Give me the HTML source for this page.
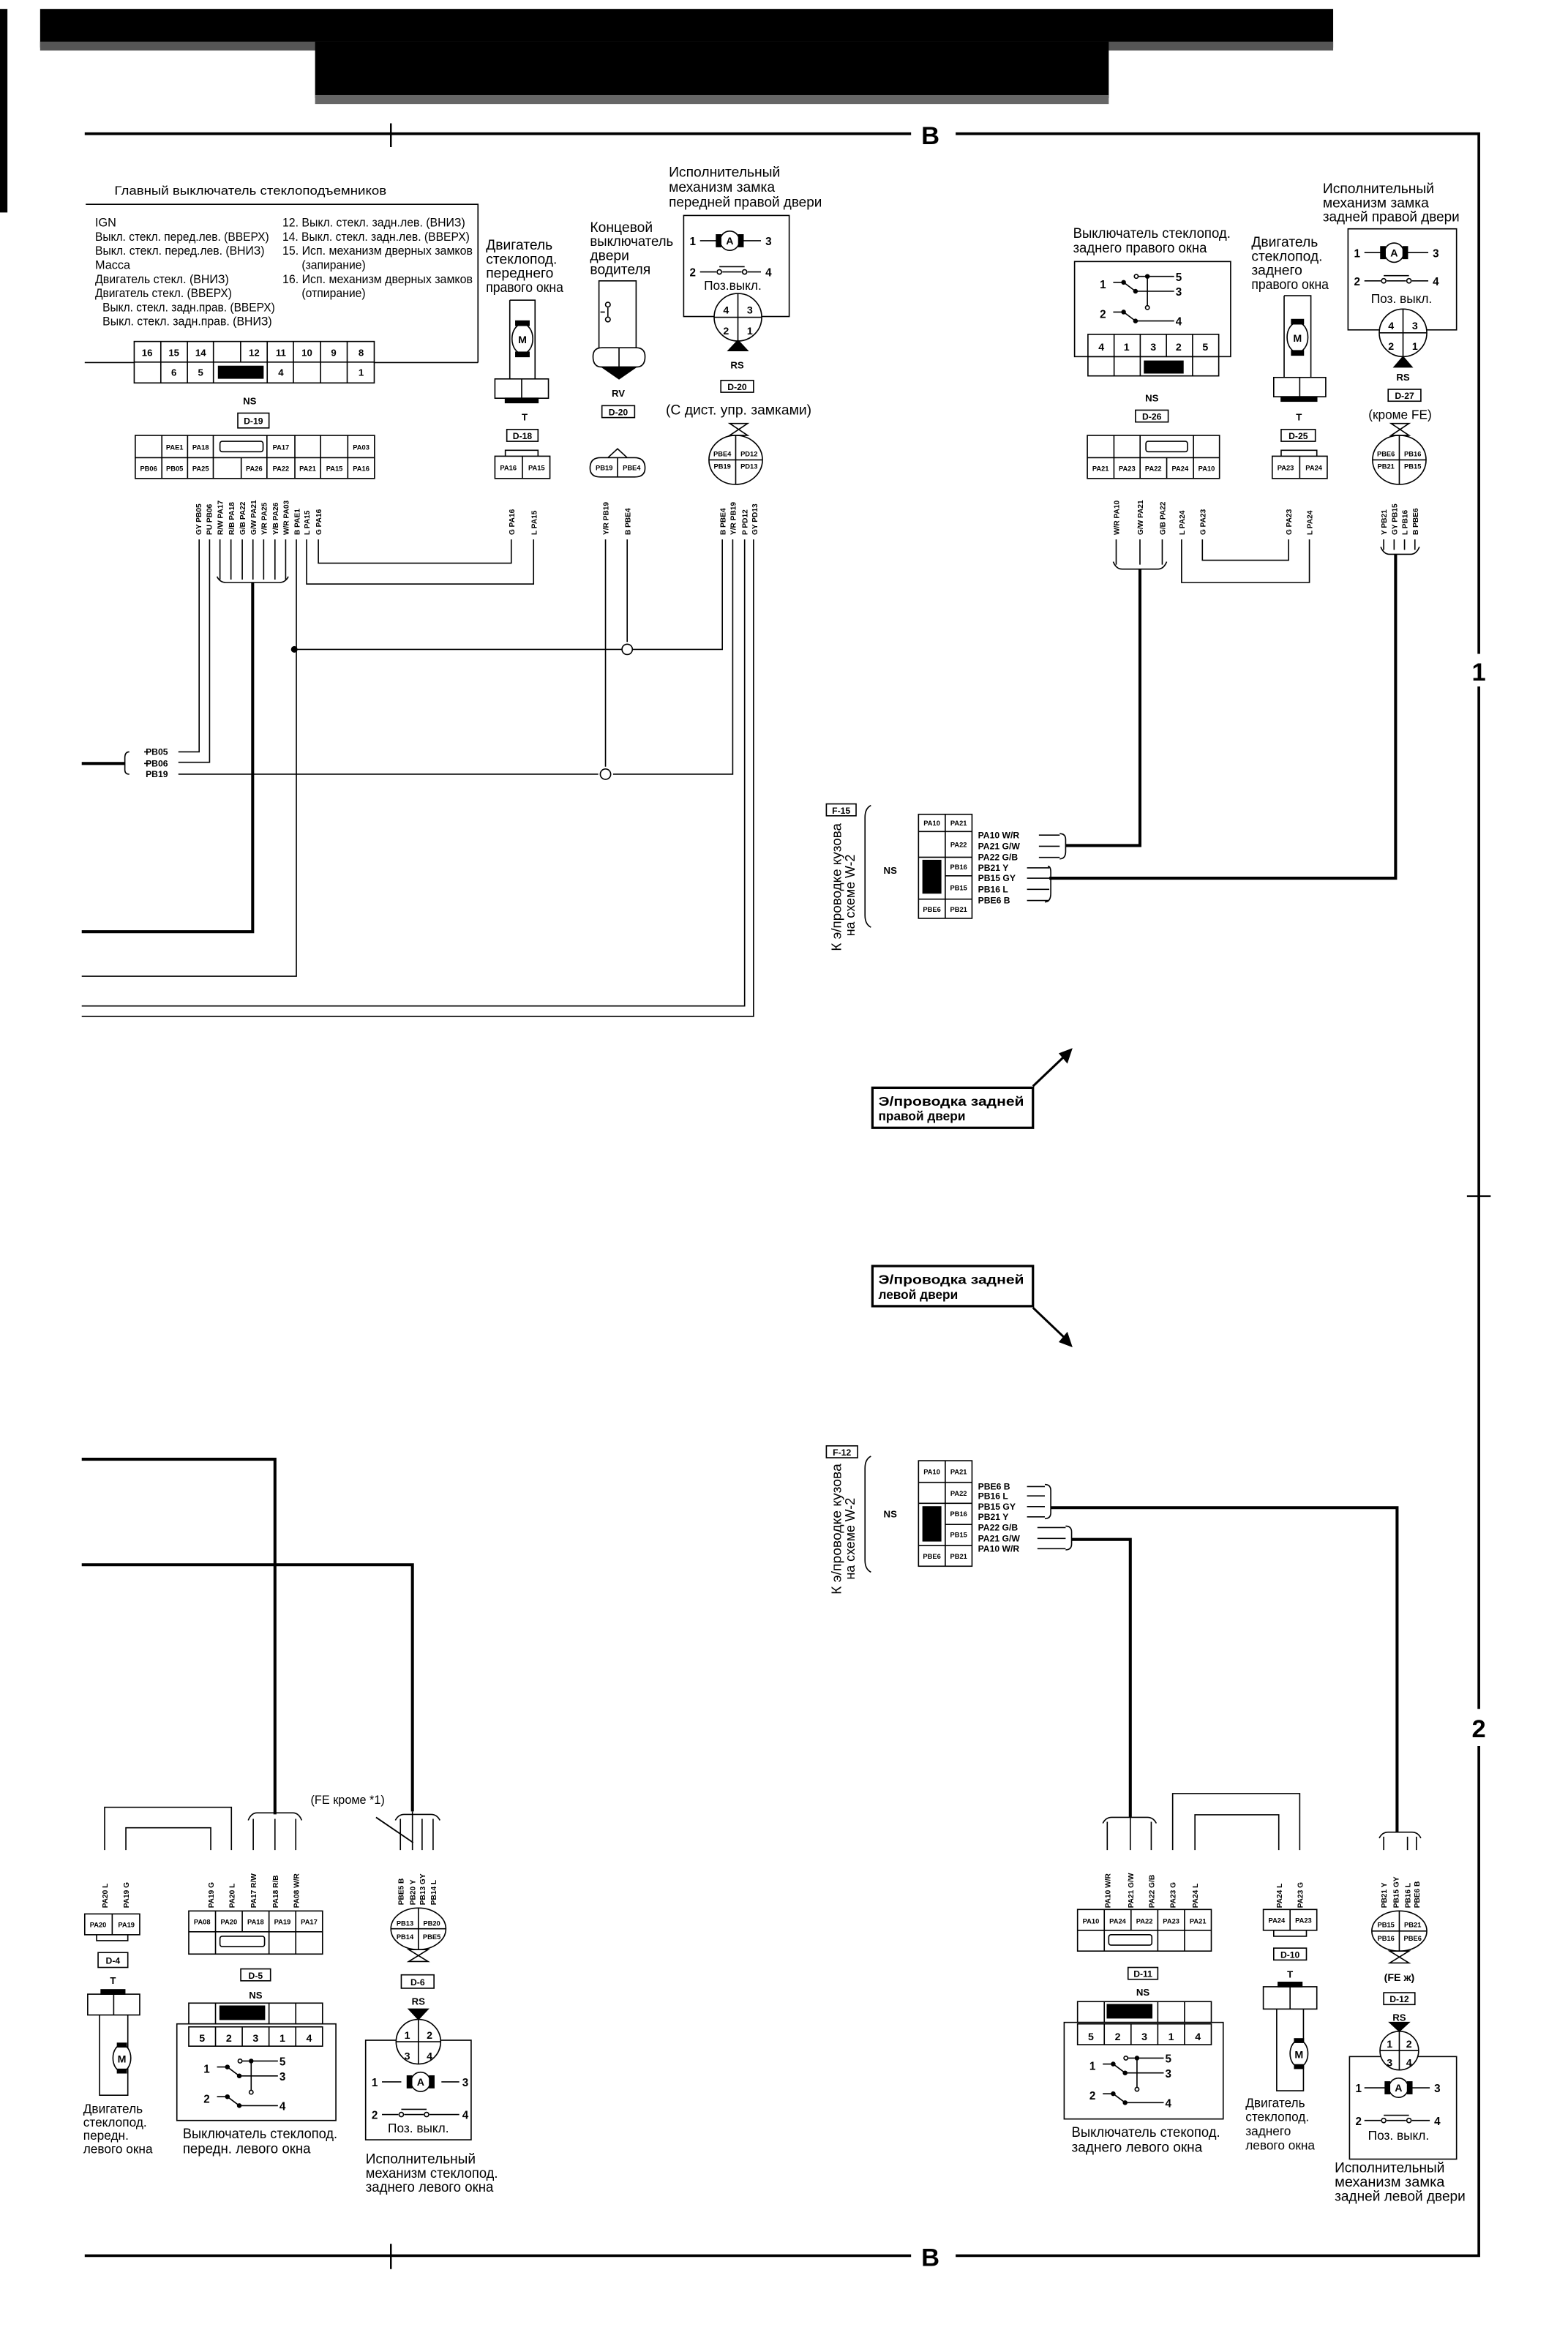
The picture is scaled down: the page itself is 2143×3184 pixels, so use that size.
<!DOCTYPE html>
<html><head><meta charset="utf-8"><style>
html,body{margin:0;padding:0;background:#fff}
svg{display:block}
text{font-family:"Liberation Sans","Noto Sans CJK SC",sans-serif;fill:#000}
.t{font-size:9.5px}
.s{font-size:8px}
.b{font-weight:bold}
.m{font-size:4.6px;font-weight:bold}
.n{font-size:6.5px;font-weight:bold}
.v{font-size:5px;font-weight:bold}
</style></head><body>
<svg width="2143" height="3184" viewBox="0 0 1055 1568" preserveAspectRatio="none" xmlns="http://www.w3.org/2000/svg">
<g fill="none" stroke="#000" stroke-width="0.8">
<!-- header -->
<rect x="27" y="6" width="870" height="26" fill="#000" stroke="none"/>
<rect x="27" y="28" width="870" height="6" fill="#555" stroke="none"/>
<rect x="212" y="28" width="534" height="38" fill="#000" stroke="none"/>
<rect x="212" y="64" width="534" height="6" fill="#666" stroke="none"/>
<rect x="0" y="6" width="5" height="137" fill="#000" stroke="none"/>
<!-- border -->
<path d="M57 90H613M643 90H995V440M995 462V1150M995 1175V1518H643M613 1518H57" stroke-width="1.8"/>
<path d="M263 83V99M263 1510V1527M987 805H1003" stroke-width="1.2"/>
<!-- top-left box -->
<path d="M57.7 137.5H321.6V244M57 244H321.6"/>
<rect x="90.3" y="229.8" width="161.5" height="27.9" fill="#fff"/>
<path d="M90.3 243.7H251.8M108.2 229.8V257.7M126.1 229.8V257.7M143.6 229.8V257.7M161.9 229.8V243.7M179.8 229.8V257.7M197.4 229.8V257.7M215.7 229.8V257.7M233.6 229.8V257.7"/>
<rect x="147" y="246.5" width="30" height="8" fill="#000"/>
<!-- connector D-19 -->
<rect x="91" y="293" width="161" height="29"/>
<path d="M91 308H252M108.9 293V322M126.2 293V322M143.5 293V322M162.3 308V322M179.6 293V322M198.4 293V322M215.7 293V322M234 293V322"/>
<rect x="148" y="297" width="29" height="7" rx="1.5"/>
<rect x="160" y="278" width="21" height="10"/>
<!-- D-19 wires -->
<path d="M134 363V506H120M141 363V513H120M148 363V390M155.4 363V390M163 363V390M170.2 363V390M177.4 363V390M185 363V390M192.2 363V390M146 388Q148 392 152 392H188Q192 392 194 388"/>
<path d="M170 392V627H55" stroke-width="2"/>
<path d="M199.4 363V657H55M206.3 363V393H359V363M214.2 363V379H344V363"/>
<path d="M198 437H486V363M422 363V432M407.4 363V516M120 521H402.5M412.5 521H493V363M501 363V677H55M507 363V684H55"/>
<circle cx="198" cy="437" r="1.8" fill="#000"/>
<circle cx="422" cy="437" r="3.5" fill="#fff"/>
<circle cx="407.4" cy="521" r="3.5" fill="#fff"/>
<path d="M55 513.8H84" stroke-width="2"/>
<path d="M87 506Q84 506 84 510V514V518Q84 521 87 521M100 506H97M100 513.8H97"/>
<!-- D-18 front right motor -->
<path d="M343 202H360V255M343 202V255"/>
<ellipse cx="351.5" cy="228" rx="7" ry="10" fill="#fff"/>
<rect x="347" y="216" width="9" height="3" fill="#000"/>
<rect x="347" y="237" width="9" height="3" fill="#000"/>
<rect x="333" y="255" width="36" height="13"/>
<path d="M351 255V268"/>
<rect x="340" y="268" width="22" height="3" fill="#000"/>
<rect x="341" y="289" width="21" height="8"/>
<rect x="333" y="307" width="37" height="15"/>
<path d="M351.5 307V322M340 307V303H362V307"/>
<!-- door switch -->
<path d="M403 234V189H428V234"/>
<circle cx="409" cy="205" r="1.6"/><circle cx="409" cy="215" r="1.6"/>
<path d="M409 207V213M404 210H407"/>
<path d="M399 240Q399 234 405 234H428Q434 234 434 240Q434 247 428 247H405Q399 247 399 240Z"/>
<path d="M416.5 234V247M405 247L416.5 255L428 247Z" fill="#000"/>
<rect x="405" y="273" width="22" height="8"/>
<path d="M397 315Q397 308 404 308H427Q434 308 434 315Q434 321 427 321H404Q397 321 397 315ZM415.5 308V321M409 308L415.5 302L422 308"/>
<!-- front right lock -->
<rect x="460" y="145" width="71" height="68"/>
<path d="M471 162H484M498 162H512M471 183H482M486 183H499M503 183H512M484 179.5H501"/>
<circle cx="491" cy="162" r="6.5" fill="#fff"/>
<rect x="482" y="158" width="3" height="8" fill="#000"/><rect x="497" y="158" width="3" height="8" fill="#000"/>
<circle cx="484" cy="183" r="1.5"/><circle cx="501" cy="183" r="1.5"/>
<circle cx="496.5" cy="213.5" r="16" fill="#fff"/>
<path d="M480.5 213.5H512.5M496.5 197.5V229.5"/>
<path d="M490 236L496.5 229L503 236Z" fill="#000"/>
<rect x="485" y="256" width="22" height="8"/>
<path d="M491 285H503L491 293H503Z"/>
<ellipse cx="495" cy="309.5" rx="18" ry="16.5"/>
<path d="M477 309.5H513M495 293V326"/>
<!-- D-26 rear right switch -->
<rect x="723" y="176" width="105" height="64"/>
<rect x="732" y="225" width="88" height="15"/>
<path d="M749.6 225V253M767.2 225V253M784.8 225V240M802.4 225V253M732 240V253H820V240"/>
<rect x="770" y="243" width="26" height="8" fill="#000"/>
<g transform="translate(745,192)">
<path d="M4 -2H11L19 4H45M21 -6H45M27 -6V14M4 18H11L19 24H45"/>
<circle cx="11" cy="-2" r="1.2" fill="#000"/><circle cx="19" cy="4" r="1.2" fill="#000"/><circle cx="19.5" cy="-6" r="1.3" fill="#fff"/><circle cx="27" cy="-6" r="1.2" fill="#000"/><circle cx="27" cy="15" r="1.3" fill="#fff"/><circle cx="11" cy="18" r="1.2" fill="#000"/><circle cx="19" cy="24" r="1.2" fill="#000"/>
</g>
<rect x="764" y="276" width="22" height="8"/>
<rect x="731.6" y="293" width="88.9" height="29"/>
<path d="M731.6 308H820.5M749.5 293V322M767.1 293V322M785 308V322M803 293V322"/>
<rect x="771" y="297" width="28" height="7" rx="1.5"/>
<path d="M751 363V380M767 363V380M782 363V380M749 378Q751 383 755 383H779Q783 383 785 378"/>
<path d="M767 383V569H717" stroke-width="2"/>
<path d="M809 363V377H867V363M795 363V392H881V363"/>
<!-- D-25 motor -->
<path d="M864 199H882V254M864 199V254"/>
<ellipse cx="873" cy="227" rx="7" ry="10" fill="#fff"/>
<rect x="869" y="215" width="8" height="3" fill="#000"/><rect x="869" y="236" width="8" height="3" fill="#000"/>
<rect x="857" y="254" width="35" height="13"/>
<path d="M874.5 254V267"/>
<rect x="862" y="267" width="24" height="3" fill="#000"/>
<rect x="862" y="289" width="23" height="8"/>
<rect x="856" y="307" width="37" height="15"/>
<path d="M874.5 307V322M862 307V303H886V307"/>
<!-- rear right lock -->
<rect x="907" y="154" width="73" height="68"/>
<path d="M918 170H931M945 170H961M918 189H929M933 189H946M950 189H961M931 185.5H948"/>
<circle cx="938" cy="170" r="6.5" fill="#fff"/>
<rect x="929" y="166" width="3" height="8" fill="#000"/><rect x="944" y="166" width="3" height="8" fill="#000"/>
<circle cx="931" cy="189" r="1.5"/><circle cx="948" cy="189" r="1.5"/>
<circle cx="944" cy="224" r="16" fill="#fff"/>
<path d="M928 224H960M944 208V240"/>
<path d="M938 247L944 240L950 247Z" fill="#000"/>
<rect x="934" y="262" width="22" height="8"/>
<path d="M936 285H948L936 293H948Z"/>
<ellipse cx="941.5" cy="309.5" rx="18" ry="16.5"/>
<path d="M923.5 309.5H959.5M941.5 293V326"/>
<path d="M931 363V370M938 363V370M945 363V370M952 363V370M929 368Q931 373 935 373H949Q953 373 955 368"/>
<path d="M939 373V591H706" stroke-width="2"/>
<!-- F-15 -->
<rect x="556" y="541" width="20" height="8"/>
<path d="M586 542Q582 544 582 550V616Q582 622 586 624"/>
<rect x="618" y="548" width="36" height="70"/>
<path d="M618 559.6H654M636 548V618M636 576.9H654M636 589.4H654M618 605.1H654M618 576.9H636"/>
<rect x="621" y="579" width="12" height="22" fill="#000"/>
<path d="M699 562H713M699 569.5H713M699 577H713M691 584H706M691 591H706M691 598.5H706M691 606H706"/>
<path d="M713 561Q717 561 717 565V569V573Q717 578 713 578M705 583Q707 583 707 587V591V601Q707 607 703 607"/>
<!-- label boxes -->
<rect x="587" y="732" width="108" height="27" stroke-width="1.6"/>
<path d="M695 731L716 711" stroke-width="1.5"/>
<path d="M713 709L721 706L718 715Z" fill="#000"/>
<rect x="587" y="852" width="108" height="27" stroke-width="1.6"/>
<path d="M695 880L716 900" stroke-width="1.5"/>
<path d="M713 903L721 906L718 897Z" fill="#000"/>
<!-- F-12 -->
<rect x="556" y="973" width="21" height="8"/>
<path d="M586 980Q582 982 582 988V1050Q582 1056 586 1058"/>
<rect x="618" y="983" width="36" height="71"/>
<path d="M618 997.6H654M636 983V1054M636 1011.7H654M636 1025.9H654M618 1040H654M618 1011.7H636"/>
<rect x="621" y="1014" width="12" height="23" fill="#000"/>
<path d="M691 1000.4H703M691 1006.7H703M691 1013.9H703M691 1020.8H703M698 1028H717M698 1035.3H717M698 1042.2H717"/>
<path d="M703 999Q707 999 707 1003V1014.6V1018Q707 1022 703 1022M717 1027Q721 1027 721 1031V1036V1039Q721 1043 717 1043"/>
<path d="M707 1014.6H940V1233M721 1036H760.5V1223" stroke-width="2"/>
<!-- bottom-left thick lines -->
<path d="M55 982H185V1221M55 1053H277.5V1219" stroke-width="2"/>
<!-- D-4 -->
<path d="M70.4 1245V1216.2H155.7V1245M84.7 1245V1230H141.8V1245"/>
<rect x="57" y="1288" width="37" height="14"/>
<path d="M75.5 1288V1302M65 1302V1306H86V1302"/>
<rect x="66" y="1314" width="20" height="10"/>
<rect x="68" y="1339" width="16" height="3" fill="#000"/>
<rect x="59" y="1342" width="35" height="14"/>
<path d="M76.5 1342V1356M67 1356V1410H86V1356"/>
<ellipse cx="82" cy="1385" rx="6" ry="9" fill="#fff"/>
<rect x="79" y="1375" width="6" height="2.5" fill="#000"/><rect x="79" y="1392.5" width="6" height="2.5" fill="#000"/>
<!-- D-5 -->
<path d="M170.4 1224V1245M185 1224V1245M199 1224V1245M167 1225Q169 1220 173 1220H197Q201 1220 203 1225"/>
<rect x="127" y="1286" width="90" height="29"/>
<path d="M127 1300H217M145 1286V1315M163 1286V1300M181 1286V1315M199 1286V1315"/>
<rect x="148" y="1303" width="30" height="7" rx="1.5"/>
<rect x="162" y="1325" width="20" height="8"/>
<rect x="127" y="1348" width="90" height="14"/>
<path d="M145 1348V1362M181 1348V1362M199 1348V1362"/>
<rect x="148" y="1350" width="30" height="9" fill="#000"/>
<rect x="119" y="1362" width="107" height="65"/>
<rect x="127" y="1364" width="90" height="13"/>
<path d="M145 1364V1377M163 1364V1377M181 1364V1377M199 1364V1377"/>
<g transform="translate(142,1393)">
<path d="M4 -2H11L19 4H45M21 -6H45M27 -6V14M4 18H11L19 24H45"/>
<circle cx="11" cy="-2" r="1.2" fill="#000"/><circle cx="19" cy="4" r="1.2" fill="#000"/><circle cx="19.5" cy="-6" r="1.3" fill="#fff"/><circle cx="27" cy="-6" r="1.2" fill="#000"/><circle cx="27" cy="15" r="1.3" fill="#fff"/><circle cx="11" cy="18" r="1.2" fill="#000"/><circle cx="19" cy="24" r="1.2" fill="#000"/>
</g>
<!-- D-6 -->
<path d="M269.4 1224V1245M277.5 1219V1245M284 1224V1245M291.4 1224V1245M266 1225Q268 1221 272 1221H290Q294 1221 296 1225"/>
<path d="M253 1223L278 1240" stroke-width="0.9"/>
<ellipse cx="281.5" cy="1298" rx="18.5" ry="14"/>
<path d="M263 1298H300M281.5 1284V1312"/>
<path d="M275 1312H288L275 1320H288Z"/>
<rect x="270" y="1329" width="22" height="9"/>
<path d="M275 1352H288L281.5 1359Z" fill="#000"/>
<rect x="246" y="1373" width="71" height="67"/>
<circle cx="281.5" cy="1374" r="15" fill="#fff"/>
<path d="M266.5 1374H296.5M281.5 1359V1389"/>
<path d="M257 1401H270M297 1401H309M257 1423H268M272 1423H285M289 1423H309M270 1419.5H287"/>
<circle cx="283" cy="1401" r="6.5" fill="#fff"/>
<rect x="274" y="1397" width="3" height="8" fill="#000"/><rect x="289" y="1397" width="3" height="8" fill="#000"/>
<circle cx="270" cy="1423" r="1.5"/><circle cx="287" cy="1423" r="1.5"/>
<!-- bottom right -->
<path d="M745 1226V1245M760.5 1223V1245M774.6 1226V1245M742 1227Q744 1223 748 1223H772Q776 1223 778 1227"/>
<path d="M789 1245V1207H874.5V1245M804 1245V1221.3H860.4V1245"/>
<rect x="725" y="1285" width="90" height="28"/>
<path d="M725 1299H815M743 1285V1313M761 1285V1299M779 1285V1313M797 1285V1313"/>
<rect x="746" y="1302" width="29" height="7" rx="1.5"/>
<rect x="759" y="1324" width="20" height="8"/>
<rect x="725" y="1347" width="90" height="14"/>
<path d="M743 1347V1361M779 1347V1361M797 1347V1361"/>
<rect x="745" y="1349" width="30" height="9" fill="#000"/>
<rect x="716" y="1361" width="107" height="65"/>
<rect x="725" y="1362" width="90" height="14"/>
<path d="M743 1362V1376M761 1362V1376M779 1362V1376M797 1362V1376"/>
<g transform="translate(738,1391)">
<path d="M4 -2H11L19 4H45M21 -6H45M27 -6V14M4 18H11L19 24H45"/>
<circle cx="11" cy="-2" r="1.2" fill="#000"/><circle cx="19" cy="4" r="1.2" fill="#000"/><circle cx="19.5" cy="-6" r="1.3" fill="#fff"/><circle cx="27" cy="-6" r="1.2" fill="#000"/><circle cx="27" cy="15" r="1.3" fill="#fff"/><circle cx="11" cy="18" r="1.2" fill="#000"/><circle cx="19" cy="24" r="1.2" fill="#000"/>
</g>
<rect x="850" y="1285" width="36" height="14"/>
<path d="M868 1285V1299M857 1299V1303H879V1299"/>
<rect x="857" y="1311" width="22" height="8"/>
<rect x="860" y="1334" width="16" height="3" fill="#000"/>
<rect x="850" y="1337" width="36" height="15"/>
<path d="M868 1337V1352M859 1352V1407H877V1352"/>
<ellipse cx="874" cy="1382" rx="6" ry="9" fill="#fff"/>
<rect x="871" y="1372" width="6" height="2.5" fill="#000"/><rect x="871" y="1389.5" width="6" height="2.5" fill="#000"/>
<path d="M931 1236V1245M947 1236V1245M953 1236V1245M928 1237Q930 1233 934 1233H950Q954 1233 956 1237"/>
<ellipse cx="941.5" cy="1299.5" rx="18.5" ry="13.5"/>
<path d="M923 1299.5H960M941.5 1286V1313"/>
<path d="M935 1313H948L935 1321H948Z"/>
<rect x="931" y="1341" width="21" height="8"/>
<path d="M935 1361H948L941.5 1367Z" fill="#000"/>
<rect x="908" y="1384" width="72" height="69"/>
<circle cx="941.5" cy="1380" r="13" fill="#fff"/>
<path d="M928.5 1380H954.5M941.5 1367V1393"/>
<path d="M918 1405H933M949 1405H962M918 1427H929M933 1427H946M950 1427H962M931 1423.5H948"/>
<circle cx="941" cy="1405" r="6.5" fill="#fff"/>
<rect x="932" y="1401" width="3" height="8" fill="#000"/><rect x="947" y="1401" width="3" height="8" fill="#000"/>
<circle cx="931" cy="1427" r="1.5"/><circle cx="948" cy="1427" r="1.5"/>
</g>
<!-- ===== TEXT ===== -->
<text x="626" y="97" font-size="17" font-weight="bold" text-anchor="middle">B</text>
<text x="626" y="1525" font-size="17" font-weight="bold" text-anchor="middle">B</text>
<text x="995" y="458" font-size="17" font-weight="bold" text-anchor="middle">1</text>
<text x="995" y="1169" font-size="17" font-weight="bold" text-anchor="middle">2</text>

<text x="77" y="131" class="s" textLength="183" lengthAdjust="spacingAndGlyphs">Главный выключатель стеклоподъемников</text>
<g class="s">
<text x="64" y="152.5">IGN</text>
<text x="64" y="162" textLength="117" lengthAdjust="spacingAndGlyphs">Выкл. стекл. перед.лев. (ВВЕРХ)</text>
<text x="64" y="171.5" textLength="114" lengthAdjust="spacingAndGlyphs">Выкл. стекл. перед.лев. (ВНИЗ)</text>
<text x="64" y="181">Масса</text>
<text x="64" y="190.5" textLength="90" lengthAdjust="spacingAndGlyphs">Двигатель стекл. (ВНИЗ)</text>
<text x="64" y="200" textLength="92" lengthAdjust="spacingAndGlyphs">Двигатель стекл. (ВВЕРХ)</text>
<text x="69" y="209.5" textLength="116" lengthAdjust="spacingAndGlyphs">Выкл. стекл. задн.прав. (ВВЕРХ)</text>
<text x="69" y="219" textLength="114" lengthAdjust="spacingAndGlyphs">Выкл. стекл. задн.прав. (ВНИЗ)</text>
<text x="190" y="152.5" textLength="123" lengthAdjust="spacingAndGlyphs">12. Выкл. стекл. задн.лев. (ВНИЗ)</text>
<text x="190" y="162" textLength="126" lengthAdjust="spacingAndGlyphs">14. Выкл. стекл. задн.лев. (ВВЕРХ)</text>
<text x="190" y="171.5" textLength="128" lengthAdjust="spacingAndGlyphs">15. Исп. механизм дверных замков</text>
<text x="203" y="181" textLength="43" lengthAdjust="spacingAndGlyphs">(запирание)</text>
<text x="190" y="190.5" textLength="128" lengthAdjust="spacingAndGlyphs">16. Исп. механизм дверных замков</text>
<text x="203" y="200" textLength="43" lengthAdjust="spacingAndGlyphs">(отпирание)</text>
</g>
<g class="n" text-anchor="middle">
<text x="99" y="239.5">16</text><text x="117" y="239.5">15</text><text x="135" y="239.5">14</text><text x="171" y="239.5">12</text><text x="189" y="239.5">11</text><text x="206.5" y="239.5">10</text><text x="224.5" y="239.5">9</text><text x="243" y="239.5">8</text>
<text x="117" y="253">6</text><text x="135" y="253">5</text><text x="189" y="253">4</text><text x="243" y="253">1</text>
</g>
<g class="n" text-anchor="middle">
<text x="168" y="272">NS</text>
<text x="775" y="270">NS</text>
<text x="599" y="588">NS</text>
<text x="599" y="1021">NS</text>
<text x="172" y="1345">NS</text>
<text x="769" y="1343">NS</text>
<text x="353" y="283">T</text><text x="874" y="283">T</text><text x="76" y="1335">T</text><text x="868" y="1331">T</text>
<text x="416" y="267">RV</text>
<text x="496" y="248">RS</text><text x="944" y="256">RS</text><text x="281.5" y="1349">RS</text><text x="941.5" y="1360">RS</text>
</g>
<g font-size="6" font-weight="bold" text-anchor="middle">
<text x="170.5" y="285.5">D-19</text>
<text x="351.5" y="295.5">D-18</text>
<text x="416" y="279.5">D-20</text>
<text x="496" y="262.5">D-20</text>
<text x="775" y="282.5">D-26</text>
<text x="873.5" y="295.5">D-25</text>
<text x="945" y="268.5">D-27</text>
<text x="566" y="547.5">F-15</text>
<text x="566.5" y="979.5">F-12</text>
<text x="76" y="1321.5">D-4</text>
<text x="172" y="1331.5">D-5</text>
<text x="281" y="1336">D-6</text>
<text x="769" y="1330.5">D-11</text>
<text x="868" y="1317.5">D-10</text>
<text x="941.5" y="1347.5">D-12</text>
</g>
<!-- connector cell labels -->
<g class="m" text-anchor="middle">
<text x="117.5" y="302.5">PAE1</text><text x="135" y="302.5">PA18</text><text x="189" y="302.5">PA17</text><text x="243" y="302.5">PA03</text>
<text x="100" y="317">PB06</text><text x="117.5" y="317">PB05</text><text x="135" y="317">PA25</text><text x="171" y="317">PA26</text><text x="189" y="317">PA22</text><text x="207" y="317">PA21</text><text x="225" y="317">PA15</text><text x="243" y="317">PA16</text>
<text x="342" y="316.5">PA16</text><text x="361" y="316.5">PA15</text>
<text x="406.5" y="316.5">PB19</text><text x="425" y="316.5">PBE4</text>
<text x="486" y="307">PBE4</text><text x="504" y="307">PD12</text><text x="486" y="315.5">PB19</text><text x="504" y="315.5">PD13</text>
<text x="740.5" y="317">PA21</text><text x="758.3" y="317">PA23</text><text x="776" y="317">PA22</text><text x="794" y="317">PA24</text><text x="811.8" y="317">PA10</text>
<text x="865" y="316.5">PA23</text><text x="884" y="316.5">PA24</text>
<text x="932.5" y="307">PBE6</text><text x="950.5" y="307">PB16</text><text x="932.5" y="315.5">PB21</text><text x="950.5" y="315.5">PB15</text>
<text x="627" y="555.5">PA10</text><text x="645" y="555.5">PA21</text><text x="645" y="570">PA22</text><text x="645" y="585">PB16</text><text x="645" y="599">PB15</text><text x="627" y="613.5">PBE6</text><text x="645" y="613.5">PB21</text>
<text x="627" y="992">PA10</text><text x="645" y="992">PA21</text><text x="645" y="1006.5">PA22</text><text x="645" y="1020.5">PB16</text><text x="645" y="1034.5">PB15</text><text x="627" y="1049">PBE6</text><text x="645" y="1049">PB21</text>
<text x="66" y="1297">PA20</text><text x="85" y="1297">PA19</text>
<text x="136" y="1295">PA08</text><text x="154" y="1295">PA20</text><text x="172" y="1295">PA18</text><text x="190" y="1295">PA19</text><text x="208" y="1295">PA17</text>
<text x="272.5" y="1296">PB13</text><text x="290.5" y="1296">PB20</text><text x="272.5" y="1305">PB14</text><text x="290.5" y="1305">PBE5</text>
<text x="734" y="1294.5">PA10</text><text x="752" y="1294.5">PA24</text><text x="770" y="1294.5">PA22</text><text x="788" y="1294.5">PA23</text><text x="806" y="1294.5">PA21</text>
<text x="859" y="1294">PA24</text><text x="877" y="1294">PA23</text>
<text x="932.5" y="1297">PB15</text><text x="950.5" y="1297">PB21</text><text x="932.5" y="1306">PB16</text><text x="950.5" y="1306">PBE6</text>
</g>
<!-- vertical wire labels -->
<g class="v">
<text transform="translate(135.5,360) rotate(-90)">GY PB05</text>
<text transform="translate(142.5,360) rotate(-90)">PU PB06</text>
<text transform="translate(150,360) rotate(-90)">R/W PA17</text>
<text transform="translate(157.5,360) rotate(-90)">R/B PA18</text>
<text transform="translate(165,360) rotate(-90)">G/B PA22</text>
<text transform="translate(172.2,360) rotate(-90)">G/W PA21</text>
<text transform="translate(179.5,360) rotate(-90)">Y/R PA25</text>
<text transform="translate(187,360) rotate(-90)">Y/B PA26</text>
<text transform="translate(194.2,360) rotate(-90)">W/R PA03</text>
<text transform="translate(201.5,360) rotate(-90)">B PAE1</text>
<text transform="translate(208.3,360) rotate(-90)">L PA15</text>
<text transform="translate(216.2,360) rotate(-90)">G PA16</text>
<text transform="translate(346,360) rotate(-90)">G  PA16</text>
<text transform="translate(361,360) rotate(-90)">L  PA15</text>
<text transform="translate(409.4,360) rotate(-90)">Y/R  PB19</text>
<text transform="translate(424.2,360) rotate(-90)">B  PBE4</text>
<text transform="translate(488,360) rotate(-90)">B PBE4</text>
<text transform="translate(495,360) rotate(-90)">Y/R PB19</text>
<text transform="translate(503,360) rotate(-90)">P PD12</text>
<text transform="translate(509.5,360) rotate(-90)">GY PD13</text>
<text transform="translate(753,360) rotate(-90)">W/R  PA10</text>
<text transform="translate(769,360) rotate(-90)">G/W  PA21</text>
<text transform="translate(784,360) rotate(-90)">G/B  PA22</text>
<text transform="translate(797,360) rotate(-90)">L  PA24</text>
<text transform="translate(811,360) rotate(-90)">G  PA23</text>
<text transform="translate(869,360) rotate(-90)">G  PA23</text>
<text transform="translate(883,360) rotate(-90)">L  PA24</text>
<text transform="translate(933,360) rotate(-90)">Y PB21</text>
<text transform="translate(940,360) rotate(-90)">GY PB15</text>
<text transform="translate(947,360) rotate(-90)">L PB16</text>
<text transform="translate(954,360) rotate(-90)">B PBE6</text>
<text transform="translate(72.4,1284) rotate(-90)">PA20  L</text>
<text transform="translate(86.7,1284) rotate(-90)">PA19  G</text>
<text transform="translate(143.8,1284) rotate(-90)">PA19  G</text>
<text transform="translate(157.7,1284) rotate(-90)">PA20  L</text>
<text transform="translate(172.4,1284) rotate(-90)">PA17  R/W</text>
<text transform="translate(187,1284) rotate(-90)">PA18  R/B</text>
<text transform="translate(201,1284) rotate(-90)">PA08  W/R</text>
<text transform="translate(271.4,1282) rotate(-90)">PBE5  B</text>
<text transform="translate(279.5,1282) rotate(-90)">PB20  Y</text>
<text transform="translate(286,1282) rotate(-90)">PB13  GY</text>
<text transform="translate(293.4,1282) rotate(-90)">PB14  L</text>
<text transform="translate(747,1284) rotate(-90)">PA10  W/R</text>
<text transform="translate(762.5,1284) rotate(-90)">PA21  G/W</text>
<text transform="translate(776.6,1284) rotate(-90)">PA22  G/B</text>
<text transform="translate(791,1284) rotate(-90)">PA23  G</text>
<text transform="translate(806,1284) rotate(-90)">PA24  L</text>
<text transform="translate(862.4,1284) rotate(-90)">PA24  L</text>
<text transform="translate(876.5,1284) rotate(-90)">PA23  G</text>
<text transform="translate(933,1284) rotate(-90)">PB21  Y</text>
<text transform="translate(941,1284) rotate(-90)">PB15  GY</text>
<text transform="translate(949,1284) rotate(-90)">PB16  L</text>
<text transform="translate(955,1284) rotate(-90)">PBE6  B</text>
</g>
<g font-size="6" font-weight="bold">
<text x="98" y="508">PB05</text><text x="98" y="515.8">PB06</text><text x="98" y="523">PB19</text>
<text x="658" y="564">PA10  W/R</text><text x="658" y="571.5">PA21  G/W</text><text x="658" y="579">PA22  G/B</text><text x="658" y="586">PB21  Y</text><text x="658" y="593">PB15  GY</text><text x="658" y="600.5">PB16  L</text><text x="658" y="608">PBE6  B</text>
<text x="658" y="1002.4">PBE6  B</text><text x="658" y="1008.7">PB16  L</text><text x="658" y="1015.9">PB15  GY</text><text x="658" y="1022.8">PB21  Y</text><text x="658" y="1030">PA22  G/B</text><text x="658" y="1037.3">PA21  G/W</text><text x="658" y="1044.2">PA10  W/R</text>
</g>
<!-- component numbers -->
<g font-size="7.5" font-weight="bold">
<text x="464" y="165">1</text><text x="515" y="165">3</text><text x="464" y="186">2</text><text x="515" y="186">4</text>
<text x="911" y="173">1</text><text x="964" y="173">3</text><text x="911" y="192">2</text><text x="964" y="192">4</text>
<text x="250" y="1404">1</text><text x="311" y="1404">3</text><text x="250" y="1426">2</text><text x="311" y="1426">4</text>
<text x="912" y="1408">1</text><text x="965" y="1408">3</text><text x="912" y="1430">2</text><text x="965" y="1430">4</text>
<text x="740" y="194">1</text><text x="791" y="189">5</text><text x="791" y="199">3</text><text x="740" y="214">2</text><text x="791" y="219">4</text>
<text x="137" y="1395">1</text><text x="188" y="1390">5</text><text x="188" y="1400">3</text><text x="137" y="1415">2</text><text x="188" y="1420">4</text>
<text x="733" y="1393">1</text><text x="784" y="1388">5</text><text x="784" y="1398">3</text><text x="733" y="1413">2</text><text x="784" y="1418">4</text>
</g>
<g font-size="7" font-weight="bold" text-anchor="middle">
<text x="491" y="164.5">A</text><text x="938" y="172.5">A</text><text x="283" y="1403.5">A</text><text x="941" y="1407.5">A</text>
<text x="351.5" y="231">M</text><text x="873" y="230">M</text><text x="82" y="1388">M</text><text x="874" y="1385">M</text>
<text x="488.5" y="211">4</text><text x="504.5" y="211">3</text><text x="488.5" y="225">2</text><text x="504.5" y="225">1</text>
<text x="936" y="221.5">4</text><text x="952" y="221.5">3</text><text x="936" y="235.5">2</text><text x="952" y="235.5">1</text>
<text x="274" y="1372">1</text><text x="289" y="1372">2</text><text x="274" y="1386">3</text><text x="289" y="1386">4</text>
<text x="935" y="1378">1</text><text x="948" y="1378">2</text><text x="935" y="1390.5">3</text><text x="948" y="1390.5">4</text>
<text x="741" y="236">4</text><text x="758" y="236">1</text><text x="776" y="236">3</text><text x="793" y="236">2</text><text x="811" y="236">5</text>
<text x="136" y="1374">5</text><text x="154" y="1374">2</text><text x="172" y="1374">3</text><text x="190" y="1374">1</text><text x="208" y="1374">4</text>
<text x="734" y="1373">5</text><text x="752" y="1373">2</text><text x="770" y="1373">3</text><text x="788" y="1373">1</text><text x="806" y="1373">4</text>
</g>
<!-- captions -->
<g class="t">
<text x="450" y="119">Исполнительный</text>
<text x="450" y="129">механизм замка</text>
<text x="450" y="139" textLength="103" lengthAdjust="spacingAndGlyphs">передней правой двери</text>
<text x="493" y="195" text-anchor="middle" font-size="8.5">Поз.выкл.</text>
<text x="448" y="279" textLength="98" lengthAdjust="spacingAndGlyphs">(С дист. упр. замками)</text>
<text x="397" y="156">Концевой</text>
<text x="397" y="165.5" textLength="56" lengthAdjust="spacingAndGlyphs">выключатель</text>
<text x="397" y="175">двери</text>
<text x="397" y="184.5">водителя</text>
<text x="327" y="168">Двигатель</text>
<text x="327" y="177.5">стеклопод.</text>
<text x="327" y="187">переднего</text>
<text x="327" y="196.5" textLength="52" lengthAdjust="spacingAndGlyphs">правого окна</text>
<text x="722" y="160" textLength="106" lengthAdjust="spacingAndGlyphs">Выключатель стеклопод.</text>
<text x="722" y="170" textLength="90" lengthAdjust="spacingAndGlyphs">заднего правого окна</text>
<text x="842" y="166">Двигатель</text>
<text x="842" y="175.5">стеклопод.</text>
<text x="842" y="185">заднего</text>
<text x="842" y="194.5" textLength="52" lengthAdjust="spacingAndGlyphs">правого окна</text>
<text x="890" y="130">Исполнительный</text>
<text x="890" y="139.5">механизм замка</text>
<text x="890" y="149" textLength="92" lengthAdjust="spacingAndGlyphs">задней правой двери</text>
<text x="943" y="204" text-anchor="middle" font-size="8.5">Поз. выкл.</text>
<text x="942" y="282" text-anchor="middle" font-size="8.5">(кроме FE)</text>
<text x="209" y="1214" font-size="8">(FE кроме *1)</text>
<text x="56" y="1422" font-size="8.5">Двигатель</text>
<text x="56" y="1431" font-size="8.5">стеклопод.</text>
<text x="56" y="1440" font-size="8.5">передн.</text>
<text x="56" y="1449" font-size="8.5">левого окна</text>
<text x="123" y="1439" textLength="104" lengthAdjust="spacingAndGlyphs">Выключатель стеклопод.</text>
<text x="123" y="1449" textLength="86" lengthAdjust="spacingAndGlyphs">передн. левого окна</text>
<text x="281.5" y="1435" text-anchor="middle" font-size="8.5">Поз. выкл.</text>
<text x="246" y="1456" textLength="74" lengthAdjust="spacingAndGlyphs">Исполнительный</text>
<text x="246" y="1465.5" textLength="89" lengthAdjust="spacingAndGlyphs">механизм стеклопод.</text>
<text x="246" y="1475" textLength="86" lengthAdjust="spacingAndGlyphs">заднего левого окна</text>
<text x="721" y="1438" textLength="100" lengthAdjust="spacingAndGlyphs">Выключатель стекопод.</text>
<text x="721" y="1448" textLength="88" lengthAdjust="spacingAndGlyphs">заднего левого окна</text>
<text x="838" y="1418" font-size="8.5">Двигатель</text>
<text x="838" y="1427.5" font-size="8.5">стеклопод.</text>
<text x="838" y="1437" font-size="8.5">заднего</text>
<text x="838" y="1446.5" font-size="8.5">левого окна</text>
<text x="941.5" y="1333" text-anchor="middle" font-size="7" font-weight="bold">(FE ж)</text>
<text x="941" y="1440" text-anchor="middle" font-size="8.5">Поз. выкл.</text>
<text x="898" y="1462" textLength="74" lengthAdjust="spacingAndGlyphs">Исполнительный</text>
<text x="898" y="1471.5" textLength="74" lengthAdjust="spacingAndGlyphs">механизм замка</text>
<text x="898" y="1481" textLength="88" lengthAdjust="spacingAndGlyphs">задней левой двери</text>
</g>
<g font-size="9">
<text transform="translate(566,640) rotate(-90)" textLength="86" lengthAdjust="spacingAndGlyphs">К э/проводке кузова</text>
<text transform="translate(575,630) rotate(-90)" textLength="55" lengthAdjust="spacingAndGlyphs">на схеме W-2</text>
<text transform="translate(566,1073) rotate(-90)" textLength="88" lengthAdjust="spacingAndGlyphs">К э/проводке кузова</text>
<text transform="translate(575,1063) rotate(-90)" textLength="55" lengthAdjust="spacingAndGlyphs">на схеме W-2</text>
</g>
<g font-size="8.5" font-weight="bold">
<text x="591" y="744" textLength="98" lengthAdjust="spacingAndGlyphs">Э/проводка задней</text>
<text x="591" y="754">правой двери</text>
<text x="591" y="864" textLength="98" lengthAdjust="spacingAndGlyphs">Э/проводка задней</text>
<text x="591" y="874">левой двери</text>
</g>
</svg>
</body></html>
